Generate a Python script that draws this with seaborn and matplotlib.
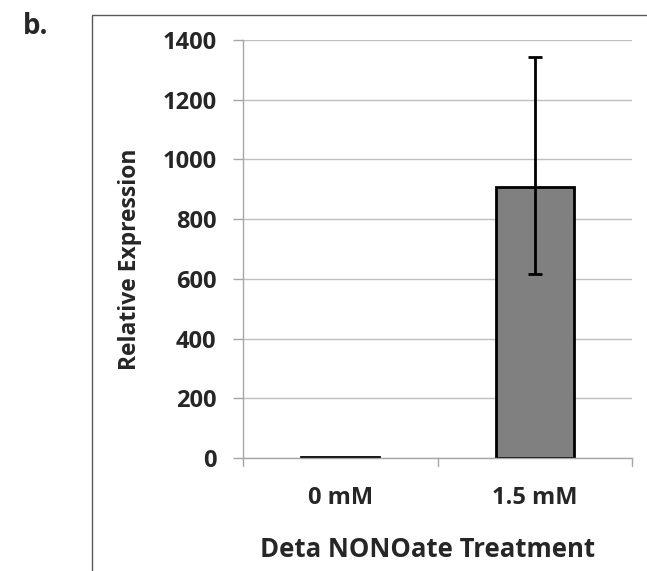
import matplotlib
matplotlib.use("Agg")
import matplotlib.pyplot as plt
import seaborn as sns
import pandas as pd
from matplotlib.patches import Rectangle

# data
treatments = ["0 mM", "1.5 mM"]
expression = [3, 907]
err_low = [0, 291]
err_high = [0, 436]
y_ticks = [0, 200, 400, 600, 800, 1000, 1200, 1400]

sns.set_theme(style="white")
plt.rcParams["font.family"] = ["Open Sans", "DejaVu Sans"]
plt.rcParams["font.weight"] = "bold"

df = pd.DataFrame({"treatment": treatments, "expression": expression})

fig = plt.figure(figsize=(6.47, 5.71), dpi=100)
ax = fig.add_axes([0.3756, 0.1979, 0.6012, 0.7321])

sns.barplot(data=df, x="treatment", y="expression", color="#808080",
            saturation=1, width=0.4, edgecolor="black", linewidth=2, ax=ax)
ax.errorbar(x=[1], y=[expression[1]], yerr=[[err_low[1]], [err_high[1]]],
            fmt="none", ecolor="black", elinewidth=2, capsize=5, capthick=2)

ax.set_xlim(-0.5, 1.5)
ax.set_ylim(0, 1400)
ax.set_yticks(y_ticks)
ax.set_yticklabels([str(v) for v in y_ticks], fontsize=17, fontweight="bold")
ax.set_xticks([0, 1])
ax.set_xticklabels(treatments, fontsize=17, fontweight="bold")
ax.tick_params(axis="x", length=0, pad=20)
ax.tick_params(axis="y", length=7, color="#a6a6a6", width=1, pad=12, left=True)

# category divider ticks on the x axis
for xb in [-0.5, 0.5, 1.5]:
    ax.plot([xb, xb], [0, -28], color="#a6a6a6", lw=1, clip_on=False)

ax.yaxis.grid(True, color="#bfbfbf", lw=1)
ax.set_axisbelow(True)
for side in ["top", "right"]:
    ax.spines[side].set_visible(False)
for side in ["left", "bottom"]:
    ax.spines[side].set_color("#a6a6a6")
    ax.spines[side].set_linewidth(1)

ax.set_xlabel("Deta NONOate Treatment", fontsize=18.5, fontweight="bold", labelpad=19)
ax.set_ylabel("Relative Expression", fontsize=16.5, fontweight="bold", labelpad=15)
ax.xaxis.label.set_x(0.474)
ax.yaxis.label.set_y(0.476)

# outer chart border and panel label
fig.add_artist(Rectangle((0.142, -0.02), 0.9, 0.994, transform=fig.transFigure,
                         fill=False, edgecolor="#595959", lw=1))
fig.text(0.035, 0.953, "b.", fontsize=20, fontweight="bold", ha="left", va="center")

fig.savefig("out.png", dpi=100)
